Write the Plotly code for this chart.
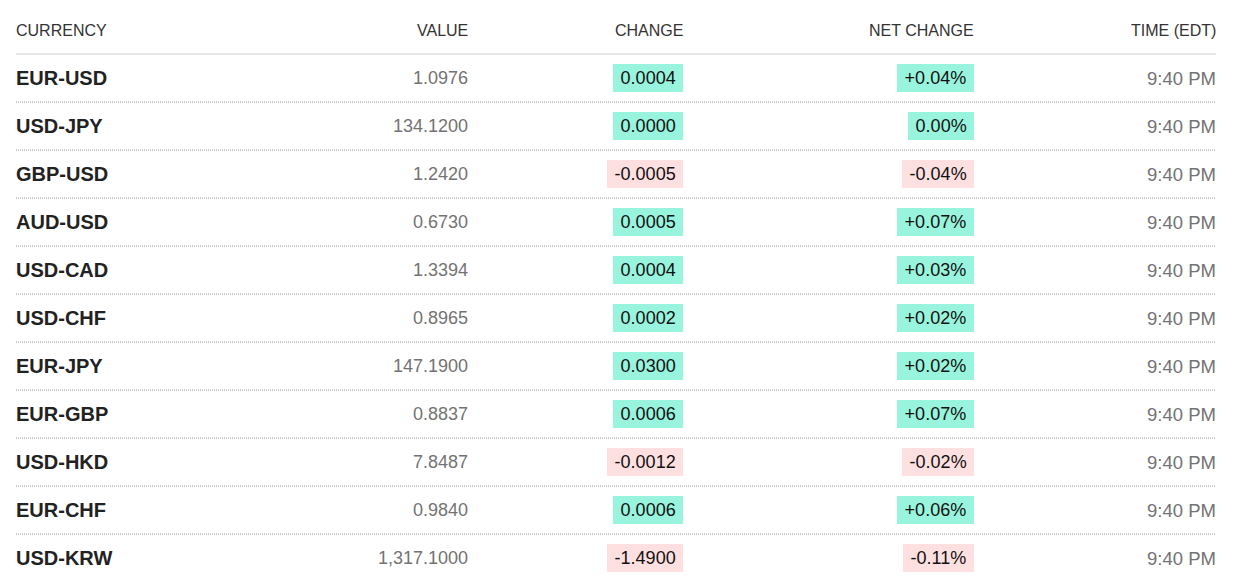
import plotly.graph_objects as go

headers = ['CURRENCY', 'VALUE', 'CHANGE', 'NET CHANGE', 'TIME (EDT)']
currencies = ['EUR-USD', 'USD-JPY', 'GBP-USD', 'AUD-USD', 'USD-CAD', 'USD-CHF',
              'EUR-JPY', 'EUR-GBP', 'USD-HKD', 'EUR-CHF', 'USD-KRW']
values = ['1.0976', '134.1200', '1.2420', '0.6730', '1.3394', '0.8965',
          '147.1900', '0.8837', '7.8487', '0.9840', '1,317.1000']
changes = ['0.0004', '0.0000', '-0.0005', '0.0005', '0.0004', '0.0002',
           '0.0300', '0.0006', '-0.0012', '0.0006', '-1.4900']
net_changes = ['+0.04%', '0.00%', '-0.04%', '+0.07%', '+0.03%', '+0.02%',
               '+0.02%', '+0.07%', '-0.02%', '+0.06%', '-0.11%']
times = ['9:40 PM'] * 11

FONT = 'Liberation Sans, Arial, sans-serif'
GREEN = '#98f4dc'
PINK = '#ffe0e0'
THIN = '\u2009'

# column x positions (pixels) and anchors
col_x = [16, 468, 683, 974, 1216]
col_anchor = ['left', 'right', 'right', 'right', 'right']

fig = go.Figure()
annotations = []


def label(x, y, text, anchor, size, color):
    return dict(x=x, y=y, text=text, xanchor=anchor, yanchor='middle', showarrow=False,
                borderpad=0, borderwidth=0, font=dict(family=FONT, size=size, color=color))


for x, a, h in zip(col_x, col_anchor, headers):
    annotations.append(label(x, -1, h, a, 16, '#333333'))

for i, cur in enumerate(currencies):
    annotations.append(label(col_x[0], i, '<b>' + cur + '</b>', 'left', 20, '#222222'))
    annotations.append(label(col_x[1], i, values[i], 'right', 18, '#737373'))
    for x, txt in [(col_x[2], changes[i]), (col_x[3], net_changes[i])]:
        bg = PINK if txt.startswith('-') else GREEN
        annotations.append(dict(x=x, y=i, text=THIN + txt + THIN, xanchor='right',
                                yanchor='middle', showarrow=False, bgcolor=bg,
                                borderpad=4, borderwidth=0,
                                font=dict(family=FONT, size=18, color='#111111')))
    annotations.append(label(col_x[4], i, times[i], 'right', 18.5, '#737373'))

# header rule and dotted row separators
fig.add_shape(type='line', x0=16, x1=1216, y0=-0.5, y1=-0.5,
              line=dict(color='#cccccc', width=1))
for i in range(len(currencies) - 1):
    fig.add_shape(type='line', x0=16, x1=1216, y0=i + 0.5, y1=i + 0.5,
                  line=dict(color='#999999', width=1, dash='1px,1px'))

# page body has an 8px margin, so shift ranges to line up with pixels
fig.update_layout(
    width=1240, height=581,
    margin=dict(l=0, r=0, t=0, b=0),
    paper_bgcolor='white', plot_bgcolor='white',
    xaxis=dict(range=[8, 1248], visible=False, fixedrange=True),
    yaxis=dict(range=[(581 - 70) / 48, -70 / 48], visible=False, fixedrange=True),
    annotations=annotations,
    showlegend=False,
)

fig.write_html("out.html")
